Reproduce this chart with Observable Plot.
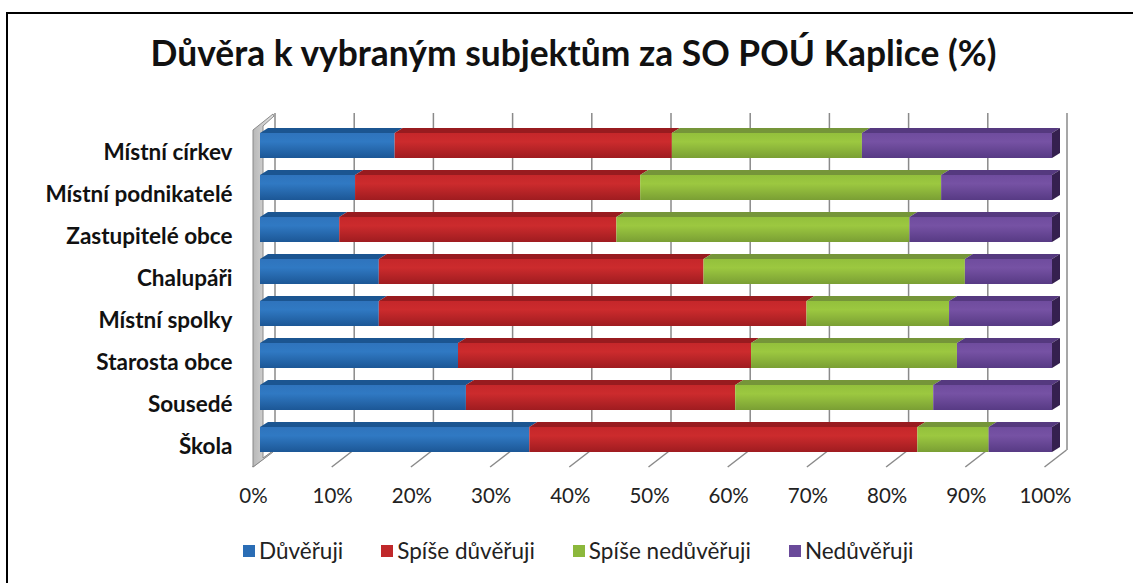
<!DOCTYPE html>
<html><head><meta charset="utf-8">
<script src="https://cdn.jsdelivr.net/npm/d3@7"></script>
<script src="https://cdn.jsdelivr.net/npm/@observablehq/plot@0.6"></script>
<style>
body{margin:0;background:#fff;width:1133px;height:583px;overflow:hidden;position:relative;font-family:Lato,"Open Sans",sans-serif}
#frame{position:absolute;left:6px;top:12px;width:1200px;height:620px;border:2.5px solid #000;box-sizing:border-box}
#title{position:absolute;left:7px;width:1133px;top:31px;text-align:center;font-weight:bold;font-size:35.4px;color:#111;z-index:2;white-space:nowrap}
#chart{position:absolute;left:0;top:0;z-index:1}
#legend{position:absolute;top:537px;left:243px;display:flex;gap:38px;font-size:22.5px;color:#222;z-index:2;white-space:nowrap}
#legend .it{display:flex;align-items:center;gap:4px}
#legend .sw{width:12px;height:12px;display:inline-block}
</style>
</head><body>
<div id="frame"></div>
<div id="title">Důvěra k vybraným subjektům za SO POÚ Kaplice (%)</div>
<div id="chart"></div>
<div id="legend"></div>
<svg width="0" height="0" style="position:absolute">
  <defs>
    <linearGradient id="gBlue" x1="0" y1="0" x2="0" y2="1">
      <stop offset="0" stop-color="#2f74bd"/><stop offset="0.35" stop-color="#3079c3"/><stop offset="1" stop-color="#1c5796"/>
    </linearGradient>
    <linearGradient id="gRed" x1="0" y1="0" x2="0" y2="1">
      <stop offset="0" stop-color="#c5272a"/><stop offset="0.35" stop-color="#cc2b2d"/><stop offset="1" stop-color="#9f1c20"/>
    </linearGradient>
    <linearGradient id="gGreen" x1="0" y1="0" x2="0" y2="1">
      <stop offset="0" stop-color="#93c03c"/><stop offset="0.35" stop-color="#9cc840"/><stop offset="1" stop-color="#7a9f34"/>
    </linearGradient>
    <linearGradient id="gPurple" x1="0" y1="0" x2="0" y2="1">
      <stop offset="0" stop-color="#6f4c9e"/><stop offset="0.35" stop-color="#7652a4"/><stop offset="1" stop-color="#573a84"/>
    </linearGradient>
    <linearGradient id="gWall" x1="0" y1="0" x2="1" y2="0">
      <stop offset="0" stop-color="#b8b8b8"/><stop offset="1" stop-color="#e4e4e4"/>
    </linearGradient>
  </defs>
</svg>
<script>
// ---- data ----
const categories = ["Místní církev","Místní podnikatelé","Zastupitelé obce","Chalupáři","Místní spolky","Starosta obce","Sousedé","Škola"];
const seriesNames = ["Důvěřuji","Spíše důvěřuji","Spíše nedůvěřuji","Nedůvěřuji"];
const duveruji        = [17,12,10,15,15,25,26,34];
const spiseDuveruji   = [35,36,35,41,54,37,34,49];
const spiseNeduveruji = [24,38,37,33,18,26,25, 9];
const neduveruji      = [24,14,18,11,13,12,15, 8];
const xTicks = [0,10,20,30,40,50,60,70,80,90,100];

const seriesValues = [duveruji, spiseDuveruji, spiseNeduveruji, neduveruji];
const rows = [];
seriesNames.forEach((s, si) => categories.forEach((c, ci) => rows.push({category: c, series: s, value: seriesValues[si][ci]})));

const fills = ["url(#gBlue)","url(#gRed)","url(#gGreen)","url(#gPurple)"];
const flat = ["#2a6db5","#c0282a","#8cb83c","#6a4a9a"];
const topFace = {"url(#gBlue)":"#1b5591","url(#gRed)":"#981b1f","url(#gGreen)":"#759539","url(#gPurple)":"#55397f"};
const sideFace = {"url(#gBlue)":"#123e6c","url(#gRed)":"#6e1316","url(#gGreen)":"#566e28","url(#gPurple)":"#35204f"};

const W = 1133, H = 583;
const plot = Plot.plot({
  width: W, height: H,
  marginLeft: 260, marginRight: 81, marginTop: 113, marginBottom: 133,
  style: {fontFamily: "Lato, 'Open Sans', sans-serif", background: "transparent", color: "#111"},
  x: {domain: [0, 100], label: null},
  y: {domain: categories, range: [124.5, 460.5], paddingInner: 0.4, paddingOuter: 0.2, label: null},
  color: {domain: seriesNames, range: fills},
  marks: [
    Plot.ruleX(xTicks, {stroke: "#8a8a8a", strokeWidth: 1.5, dx: 14.5}),
    Plot.barX(rows, Plot.stackX({x: "value", y: "category", fill: "series", order: null})),
    Plot.axisY({tickSize: 0, tickPadding: 28, dy: 7, fontSize: 22.5, fontWeight: "bold", fill: "#111", label: null}),
    Plot.axisX(xTicks, {tickSize: 0, tickPadding: 38, dx: -7, fontSize: 20.5, fill: "#222", label: null, tickFormat: d => d + "%"})
  ]
});
document.getElementById("chart").appendChild(plot);

// ---- 3D embellishments derived from Plot's own scales / rendered bars ----
const xs = plot.scale("x");
const svg = d3.select(plot);
const backBottom = H - 133;
const deco = svg.insert("g", ":first-child");
// floor slant lines
xTicks.forEach(t => {
  const bx = xs.apply(t) + 14.5;
  deco.append("line").attr("x1", bx).attr("y1", backBottom).attr("x2", bx - 22).attr("y2", backBottom + 17)
    .attr("stroke", "#8a8a8a").attr("stroke-width", 1.5);
});
// left wall
const x0 = xs.apply(0);
deco.append("polygon")
  .attr("points", [[x0-7,130],[x0+13,114],[x0+14,116],[x0+3,126],[x0+3,458],[x0+13,451],[x0+13,452],[x0-7,467]].map(p=>p.join(",")).join(" "))
  .attr("fill", "url(#gWall)").attr("stroke", "#8a8a8a").attr("stroke-width", 1);

// top and side faces of bars
const rects = svg.selectAll("g[aria-label=bar] rect").nodes();
let maxRight = 0;
rects.forEach(r => { const x = +r.getAttribute("x"), w = +r.getAttribute("width"); maxRight = Math.max(maxRight, x + w); });
rects.forEach(r => {
  const x = +r.getAttribute("x"), y = +r.getAttribute("y"), w = +r.getAttribute("width"), h = +r.getAttribute("height");
  const f = r.getAttribute("fill");
  const g = r.parentNode;
  const dx = 8, dy = 5;
  d3.select(g).append("polygon")
    .attr("points", [[x,y],[x+dx,y-dy],[x+w+dx,y-dy],[x+w,y]].map(p=>p.join(",")).join(" "))
    .attr("fill", topFace[f] || "#333");
  if (Math.abs(x + w - maxRight) < 0.5) {
    d3.select(g).append("polygon")
      .attr("points", [[x+w,y],[x+w+dx,y-dy],[x+w+dx,y+h-dy],[x+w,y+h]].map(p=>p.join(",")).join(" "))
      .attr("fill", sideFace[f] || "#222");
  }
});

// legend
const lg = document.getElementById("legend");
seriesNames.forEach((s, i) => {
  const it = document.createElement("div"); it.className = "it";
  const sw = document.createElement("span"); sw.className = "sw"; sw.style.background = flat[i];
  const tx = document.createElement("span"); tx.textContent = s;
  it.appendChild(sw); it.appendChild(tx); lg.appendChild(it);
});
</script>
</body></html>
